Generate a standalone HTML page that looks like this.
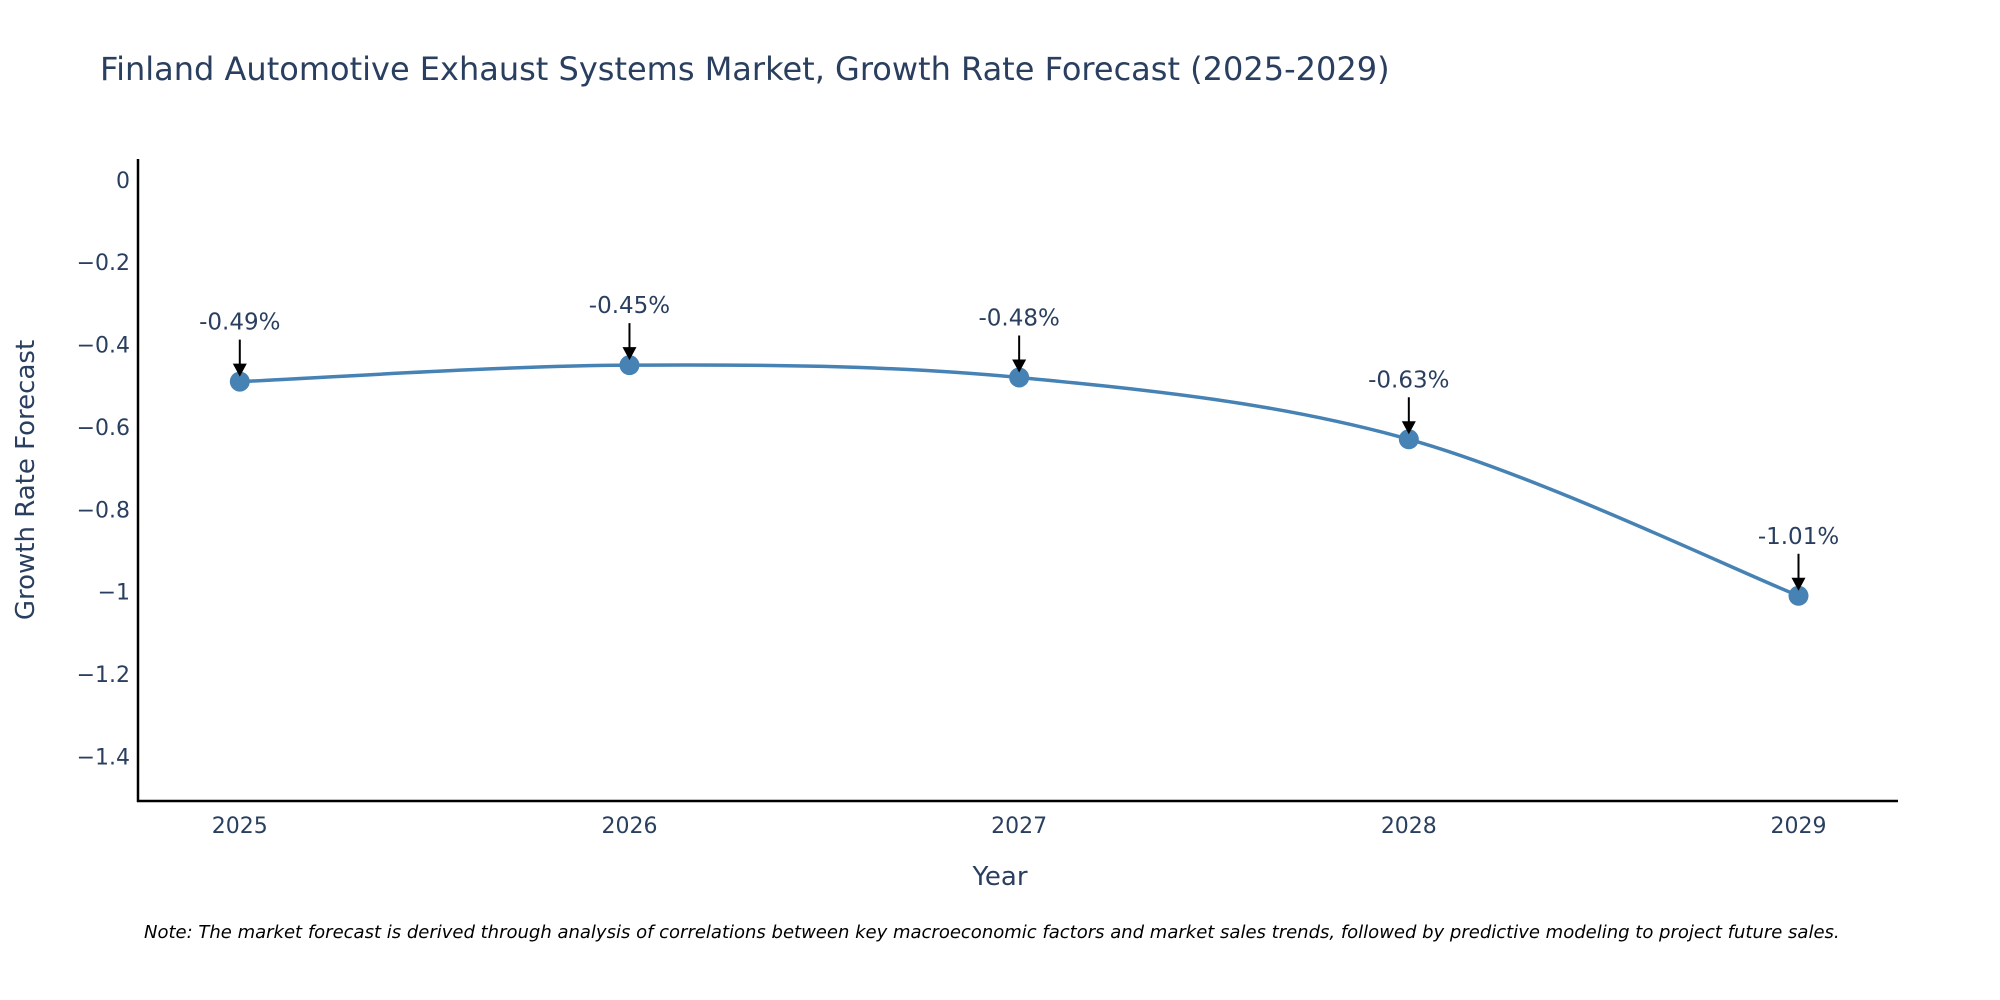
<!DOCTYPE html>
<html><head><meta charset="utf-8"><style>
html,body{margin:0;padding:0;background:#fff;overflow:hidden;}
svg{display:block;font-family:"DejaVu Sans","Liberation Sans",sans-serif;}
</style></head><body>
<svg id="chart" width="2000" height="1000" viewBox="0 0 2000 1000">
<text x="100" y="80" font-size="32" fill="#2a3f5f">Finland Automotive Exhaust Systems Market, Growth Rate Forecast (2025-2029)</text>
<g id="yticks"></g>
<g id="xticks"></g>
<line x1="138" y1="159" x2="138" y2="802" stroke="#000" stroke-width="2.5"/>
<line x1="137" y1="801" x2="1898" y2="801" stroke="#000" stroke-width="2.5"/>
<text x="1000" y="885" font-size="26" fill="#2a3f5f" text-anchor="middle">Year</text>
<text transform="translate(34,480) rotate(-90)" font-size="26" fill="#2a3f5f" text-anchor="middle">Growth Rate Forecast</text>
<g id="series"></g>
<g id="annos"></g>
<text x="144" y="938" font-size="18" font-style="italic" fill="#000">Note: The market forecast is derived through analysis of correlations between key macroeconomic factors and market sales trends, followed by predictive modeling to project future sales.</text>
</svg>
<script>
const years = [2025, 2026, 2027, 2028, 2029];
const values = [-0.49, -0.45, -0.48, -0.63, -1.01];
const valueLabels = ["-0.49%", "-0.45%", "-0.48%", "-0.63%", "-1.01%"];
const yTicks = [0, -0.2, -0.4, -0.6, -0.8, -1, -1.2, -1.4];
const yTickLabels = ["0", "\u22120.2", "\u22120.4", "\u22120.6", "\u22120.8", "\u22121", "\u22121.2", "\u22121.4"];

const NS = "http://www.w3.org/2000/svg";
function xs(yr){ return 239.8 + (yr - years[0]) * (1798.5 - 239.8) / (years[years.length-1] - years[0]); }
function ys(v){ return 179.8 + (0 - v) * (756.4 - 179.8) / 1.4; }
function mk(tag, attrs, parent){ const e = document.createElementNS(NS, tag); for (const k in attrs) e.setAttribute(k, attrs[k]); parent.appendChild(e); return e; }

const yg = document.getElementById('yticks');
yTicks.forEach((t, i) => {
  const e = mk('text', {x: 130, y: ys(t) + 8, 'font-size': 22, fill: '#2a3f5f', 'text-anchor': 'end'}, yg);
  
  
  e.textContent = yTickLabels[i];
});
const xg = document.getElementById('xticks');
years.forEach(y => {
  const e = mk('text', {x: xs(y), y: 833, 'font-size': 22, fill: '#2a3f5f', 'text-anchor': 'middle'}, xg);
  
  
  e.textContent = String(y);
});

const pts = years.map((y, i) => [xs(y), ys(values[i])]);
let d = `M${pts[0][0]},${pts[0][1]}`;
for (let i = 0; i < pts.length - 1; i++) {
  const p0 = pts[Math.max(0, i-1)], p1 = pts[i], p2 = pts[i+1], p3 = pts[Math.min(pts.length-1, i+2)];
  const c1 = [p1[0] + (p2[0]-p0[0])/6, p1[1] + (p2[1]-p0[1])/6];
  const c2 = [p2[0] - (p3[0]-p1[0])/6, p2[1] - (p3[1]-p1[1])/6];
  d += ` C${c1[0]},${c1[1]} ${c2[0]},${c2[1]} ${p2[0]},${p2[1]}`;
}
const sg = document.getElementById('series');
const line = mk('path', {d: d, fill: 'none', stroke: '#4682b4', 'stroke-width': 3.5}, sg);


pts.forEach(p => {
  const c = mk('circle', {cx: p[0], cy: p[1], r: 10, fill: '#4682b4'}, sg);
  
  
});

const ag = document.getElementById('annos');
pts.forEach((p, i) => {
  const a = mk('line', {x1: p[0], y1: p[1] - 42, x2: p[0], y2: p[1] - 14, stroke: '#000', 'stroke-width': 2}, ag);
  
  
  const h = mk('polygon', {points: `${p[0]-7},${p[1]-18} ${p[0]+7},${p[1]-18} ${p[0]},${p[1]-5}`, fill: '#000'}, ag);
  
  
  const t = mk('text', {x: p[0], y: p[1] - 52, 'font-size': 23, fill: '#2a3f5f', 'text-anchor': 'middle'}, ag);
  
  
  t.textContent = valueLabels[i];
});
</script>
</body></html>
